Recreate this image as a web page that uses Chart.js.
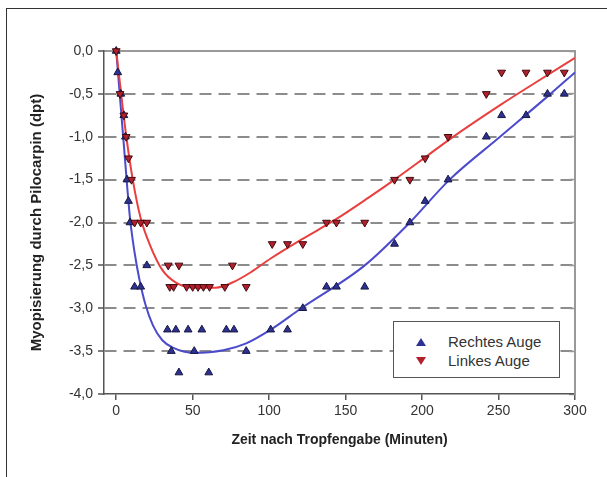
<!DOCTYPE html>
<html>
<head>
<meta charset="utf-8">
<script src="https://cdn.jsdelivr.net/npm/chart.js@4"></script>
<style>
  body { margin: 0; background: #fff; font-family: "Liberation Sans", Arial, sans-serif; }
  #wrap { position: relative; width: 607px; height: 477px; overflow: hidden; }
  #frame { position: absolute; left: 6px; top: 8px; width: 700px; height: 600px;
           border-top: 1.5px solid #333; border-left: 1.5px solid #333; }
  #legend { position: absolute; left: 393px; top: 321px; width: 165px; height: 55px;
            border: 1.5px solid #555; background: #fff; }
  .row { position: absolute; left: 0; height: 18px; font-size: 15px; color: #333; }
  .row span.txt { position: absolute; left: 54px; top: 0; white-space: nowrap; line-height: 18px; }
  .tri { position: absolute; left: 22px; top: 5px; width: 0; height: 0;
         border-left: 5px solid transparent; border-right: 5px solid transparent; }
</style>
</head>
<body>
<div id="wrap">
  <canvas id="myChart" width="607" height="477"></canvas>
  <div id="frame"></div>
  <div id="legend"></div>
</div>
<script>
// Rechtes Auge (markers)
const zeitRechts = [0, 1, 3, 5, 6, 7, 8, 9, 12, 16, 20, 33.5, 36, 39, 41, 47, 51, 56, 60.5, 72, 77, 85,
  101, 112, 122, 137.5, 144, 162.5, 182, 192, 202, 217, 242, 252, 268, 282, 293];
const rechtesAuge = [0, -0.25, -0.5, -0.75, -1.0, -1.5, -1.75, -2.0, -2.75, -2.75, -2.5, -3.25, -3.5, -3.25, -3.75, -3.25, -3.5, -3.25, -3.75, -3.25, -3.25, -3.5,
  -3.25, -3.25, -3.0, -2.75, -2.75, -2.75, -2.25, -2.0, -1.75, -1.5, -1.0, -0.75, -0.75, -0.5, -0.5];

// Linkes Auge (markers)
const zeitLinks = [0, 2.5, 5, 6.5, 8, 10, 12, 16, 20, 34, 35, 37.5, 41, 46, 50, 53.5, 57, 61, 71, 76, 85,
  102, 112, 122, 137.5, 144, 162.5, 182, 192, 202, 217, 242, 252, 268, 282, 293];
const linkesAuge = [0, -0.5, -0.75, -1.0, -1.25, -1.5, -2.0, -2.0, -2.0, -2.5, -2.75, -2.75, -2.5, -2.75, -2.75, -2.75, -2.75, -2.75, -2.75, -2.5, -2.75,
  -2.25, -2.25, -2.25, -2.0, -2.0, -2.0, -1.5, -1.5, -1.25, -1.0, -0.5, -0.25, -0.25, -0.25, -0.25];

// fitted curves
const kurveRechtsX = [0, 5, 9, 12, 15, 19, 24, 30, 37, 51, 70, 85, 101, 121, 162.5, 192, 218, 251, 284, 300];
const kurveRechtsY = [0, -1.1, -1.95, -2.35, -2.65, -2.95, -3.2, -3.37, -3.46, -3.52, -3.49, -3.41, -3.25, -3.0, -2.5, -2.0, -1.5, -1.0, -0.5, -0.25];
const kurveLinksX = [0, 6.6, 11, 16, 22, 30, 39, 52, 65, 76, 88, 101, 121, 143, 165, 182, 202, 218, 252, 274, 300];
const kurveLinksY = [0, -1.0, -1.52, -1.95, -2.26, -2.55, -2.7, -2.76, -2.76, -2.7, -2.58, -2.42, -2.2, -1.97, -1.71, -1.5, -1.24, -1.03, -0.62, -0.37, -0.08];

const yTicks = [0, -0.5, -1, -1.5, -2, -2.5, -3, -3.5, -4];
const yTickLabels = ['0,0', '-0,5', '-1,0', '-1,5', '-2,0', '-2,5', '-3,0', '-3,5', '-4,0'];

const labels = ['Rechtes Auge', 'Linkes Auge'];
const markerColors = ['#2e3192', '#b3202d'];
const markerBorders = ['#15173f', '#3d0a0f'];
const lineColors = ['#4b4bcc', '#e8403f'];

const pts = (xs, ys) => xs.map((x, i) => ({ x: x, y: ys[i] }));

const ctx = document.getElementById('myChart');

new Chart(ctx, {
  type: 'scatter',
  data: {
    datasets: [
      {
        label: labels[1],
        data: pts(zeitLinks, linkesAuge),
        pointStyle: 'triangle',
        rotation: 180,
        radius: 4.5,
        backgroundColor: markerColors[1],
        borderColor: markerBorders[1],
        borderWidth: 1,
        clip: false,
        xAxisID: 'x', yAxisID: 'y'
      },
      {
        label: labels[0],
        data: pts(zeitRechts, rechtesAuge),
        pointStyle: 'triangle',
        radius: 4.5,
        backgroundColor: markerColors[0],
        borderColor: markerBorders[0],
        borderWidth: 1,
        clip: false,
        xAxisID: 'x', yAxisID: 'y'
      },
      {
        label: 'fit links',
        data: pts(kurveLinksX, kurveLinksY),
        showLine: true,
        pointRadius: 0,
        borderColor: lineColors[1],
        borderWidth: 2,
        cubicInterpolationMode: 'monotone',
        xAxisID: 'x', yAxisID: 'y'
      },
      {
        label: 'fit rechts',
        data: pts(kurveRechtsX, kurveRechtsY),
        showLine: true,
        pointRadius: 0,
        borderColor: lineColors[0],
        borderWidth: 2,
        cubicInterpolationMode: 'monotone',
        xAxisID: 'x', yAxisID: 'y'
      }
    ]
  },
  options: {
    responsive: false,
    animation: false,
    devicePixelRatio: 1,
    layout: { padding: { left: 20, right: 32, top: 51, bottom: 23 } },
    plugins: { legend: { display: false }, tooltip: { enabled: false } },
    scales: {
      x: {
        type: 'linear', position: 'bottom',
        min: -8, max: 300,
        ticks: { stepSize: 50, includeBounds: false, color: '#333', font: { size: 14 }, padding: 3 },
        grid: { drawOnChartArea: false, tickLength: 6, color: '#555', lineWidth: 1.5 },
        border: { color: '#555', width: 1.5 },
        title: { display: true, text: 'Zeit nach Tropfengabe (Minuten)', color: '#222',
                 font: { size: 14, weight: 'bold' }, padding: { top: 4, bottom: 5 } },
        afterFit: s => { s.height = 60; }
      },
      x2: {
        type: 'linear', position: 'top', min: -8, max: 300,
        ticks: { display: false },
        grid: { drawOnChartArea: false, drawTicks: false },
        border: { color: '#999', width: 2 },
        afterFit: s => { s.height = 0; }
      },
      y: {
        type: 'linear', position: 'left',
        min: -4, max: 0,
        ticks: {
          stepSize: 0.5, color: '#333', font: { size: 14 }, padding: 5,
          callback: v => yTickLabels[yTicks.findIndex(t => Math.abs(t - v) < 1e-6)]
        },
        grid: {
          color: c => (c.tick && (c.tick.value === 0 || c.tick.value === -4)) ? 'rgba(0,0,0,0)' : '#8c8c8c',
          lineWidth: 2, tickLength: 6, tickColor: '#555', tickWidth: 1.5
        },
        border: { color: '#555', width: 1.5, dash: [12, 7] },
        title: { display: true, text: 'Myopisierung durch Pilocarpin (dpt)', color: '#222',
                 font: { size: 15, weight: 'bold' }, padding: { top: 8 } },
        afterFit: s => { s.width = 84; }
      },
      y2: {
        type: 'linear', position: 'right', min: -4, max: 0,
        ticks: { display: false, stepSize: 0.5 },
        grid: { drawOnChartArea: false, drawTicks: true, tickLength: -6, tickColor: '#999', tickWidth: 1.5 },
        border: { color: '#999', width: 2 },
        afterFit: s => { s.width = 0; }
      }
    }
  }
});

// legend box
const legend = document.getElementById('legend');
[0, 1].forEach(i => {
  const row = document.createElement('div');
  row.className = 'row';
  row.style.top = (11 + i * 19) + 'px';
  row.style.width = '160px';
  const tri = document.createElement('div');
  tri.className = 'tri';
  if (i === 0) tri.style.borderBottom = '8px solid ' + markerColors[0];
  else tri.style.borderTop = '8px solid ' + markerColors[1];
  const txt = document.createElement('span');
  txt.className = 'txt';
  txt.textContent = labels[i];
  row.appendChild(tri);
  row.appendChild(txt);
  legend.appendChild(row);
});
</script>
</body>
</html>
